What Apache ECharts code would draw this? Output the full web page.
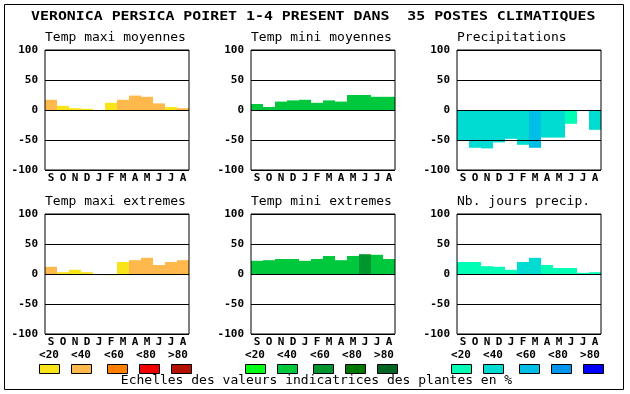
<!DOCTYPE html>
<html><head><meta charset="utf-8">
<script src="https://cdn.jsdelivr.net/npm/echarts@6/dist/echarts.min.js"></script>
<style>html,body{margin:0;padding:0;background:#fff}#c{width:630px;height:394px}</style>
</head><body><div id="c"></div>
<script>
// ---- data ----
const months = ['S','O','N','D','J','F','M','A','M','J','J','A'];
const mainTitle = 'VERONICA PERSICA POIRET 1-4 PRESENT DANS  35 POSTES CLIMATIQUES';
const panelTitles = ['Temp maxi moyennes','Temp mini moyennes','Precipitations','Temp maxi extremes','Temp mini extremes','Nb. jours precip.'];
const legendLabels = ['<20','<40','<60','<80','>80'];
const footer = 'Echelles des valeurs indicatrices des plantes en %';

const tempMaxiMoy   = [17, 7, 3, 2, 0, 12, 17, 24, 22, 11, 5, 3];
const tempMaxiMoyCl = [1, 0, 0, 0, 0, 0, 1, 1, 1, 1, 0, 1];
const tempMiniMoy   = [10, 5, 14, 16, 17, 12, 16, 14, 25, 25, 22, 22];
const tempMiniMoyCl = [1, 1, 1, 1, 1, 1, 1, 1, 1, 1, 1, 1];
const precip        = [-50, -63, -64, -54, -48, -58, -63, -46, -46, -23, 0, -33];
const precipCl      = [1, 1, 1, 1, 1, 1, 2, 1, 1, 0, 1, 1];
const tempMaxiExt   = [12, 3, 7, 3, 0, -2, 20, 23, 27, 15, 20, 23];
const tempMaxiExtCl = [1, 0, 0, 0, 0, 0, 0, 1, 1, 1, 1, 1];
const tempMiniExt   = [22, 23, 25, 25, 22, 25, 30, 23, 30, 33, 32, 25];
const tempMiniExtCl = [1, 1, 1, 1, 1, 1, 1, 1, 1, 2, 1, 1];
const nbJours       = [20, 20, 13, 12, 7, 20, 27, 15, 10, 10, 2, 3];
const nbJoursCl     = [0, 0, 0, 0, 0, 1, 1, 0, 0, 0, 0, 0];

const yMin = -100, yMax = 100, yStep = 50;

// ---- styles ----
const warm  = ['#f8e418','#ffb84c','#ff8000','#f00000','#b41000'];
const green = ['#00ff14','#00c83c','#00962d','#007800','#006423'];
const blue  = ['#00ffb4','#00dcd2','#00bee6','#0096f0','#0000ff'];

const panels = [
  {vals: tempMaxiMoy, cls: tempMaxiMoyCl, pal: warm},
  {vals: tempMiniMoy, cls: tempMiniMoyCl, pal: green},
  {vals: precip, cls: precipCl, pal: blue},
  {vals: tempMaxiExt, cls: tempMaxiExtCl, pal: warm},
  {vals: tempMiniExt, cls: tempMiniExtCl, pal: green},
  {vals: nbJours, cls: nbJoursCl, pal: blue}
];
const lefts = [45, 251, 457];
const tops = [50, 214];
const mono = '"DejaVu Sans Mono", monospace';

const grids = [], xAxes = [], yAxes = [], series = [], graphics = [];
panels.forEach((p, i) => {
  const col = i % 3, row = Math.floor(i / 3);
  grids.push({left: lefts[col], top: tops[row], width: 144, height: 120,
    show: true, borderColor: '#000', borderWidth: 1, backgroundColor: 'transparent', z: 6});
  xAxes.push({type: 'category', gridIndex: i, data: months,
    axisLine: {show: false}, axisTick: {show: false},
    axisLabel: {interval: 0, margin: 3, color: '#000', fontFamily: mono, fontWeight: 'bold', fontSize: 11}});
  yAxes.push({type: 'value', gridIndex: i, min: yMin, max: yMax, interval: yStep, z: 6,
    axisLine: {show: false}, axisTick: {show: false},
    splitLine: {show: true, lineStyle: {color: '#000', width: 1}},
    axisLabel: {margin: 7, color: '#000', fontFamily: mono, fontWeight: 'bold', fontSize: 11}});
  series.push({type: 'bar', xAxisIndex: i, yAxisIndex: i, barWidth: '100%', barCategoryGap: 0,
    animation: false, silent: true,
    data: p.vals.map((v, k) => ({value: v, itemStyle: {color: p.pal[p.cls[k]]}}))});
  graphics.push({type: 'text', x: lefts[col], y: row === 0 ? 38 : 202,
    style: {text: panelTitles[i], font: '13px ' + mono, fill: '#000', textAlign: 'left', textVerticalAlign: 'middle'}});
});

// legend swatches & labels
const swX = [39, 71, 107, 139, 171];
const lbX = [49, 81, 114, 146, 178];
[warm, green, blue].forEach((pal, g) => {
  pal.forEach((c, k) => {
    graphics.push({type: 'rect', shape: {x: swX[k] + 206 * g + 0.5, y: 364.5, width: 20, height: 9},
      style: {fill: c, stroke: '#000', lineWidth: 1}});
    graphics.push({type: 'text', x: lbX[k] + 206 * g, y: 355,
      style: {text: legendLabels[k], font: 'bold 11px ' + mono, fill: '#000', textAlign: 'center', textVerticalAlign: 'middle'}});
  });
});
graphics.push({type: 'text', x: 316.5, y: 381,
  style: {text: footer, font: '13px ' + mono, fill: '#000', textAlign: 'center', textVerticalAlign: 'middle'}});
graphics.push({type: 'text', x: 31, y: 16.5, scaleX: 1.24,
  style: {text: mainTitle, font: 'bold 12px ' + mono, fill: '#000', textAlign: 'left', textVerticalAlign: 'middle'}});
graphics.push({type: 'rect', shape: {x: 4.5, y: 4.5, width: 619, height: 385},
  style: {fill: 'none', stroke: '#000', lineWidth: 1}});

const chart = echarts.init(document.getElementById('c'), null, {renderer: 'canvas'});
chart.setOption({
  animation: false,
  backgroundColor: '#fff',
  grid: grids, xAxis: xAxes, yAxis: yAxes, series: series, graphic: graphics
});
</script>
</body></html>
